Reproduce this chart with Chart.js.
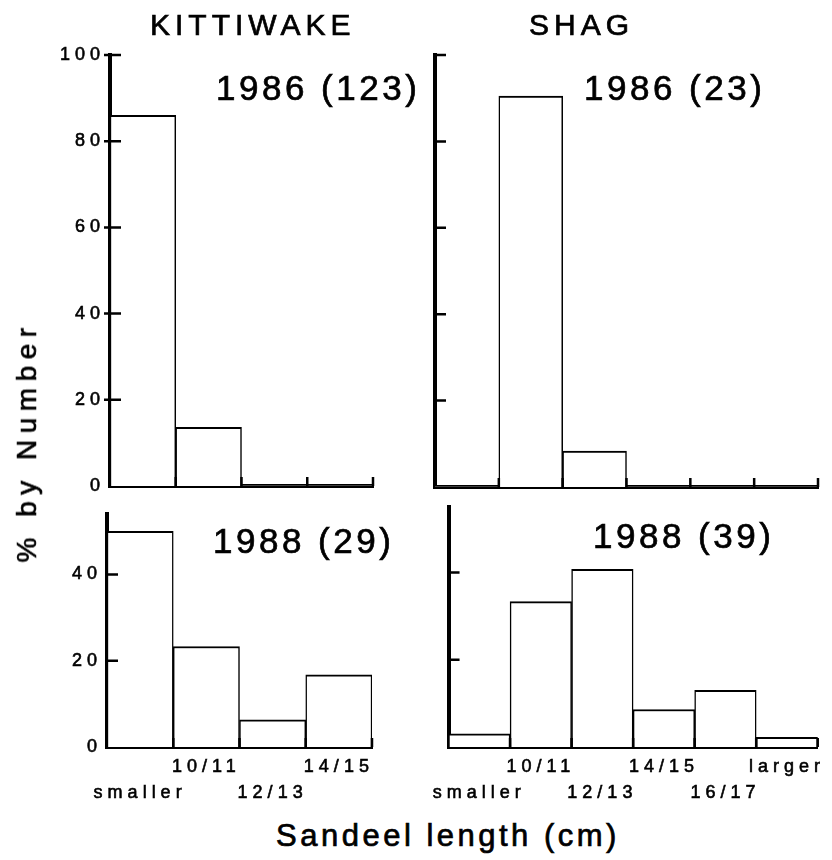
<!DOCTYPE html>
<html>
<head>
<meta charset="utf-8">
<script src="https://cdn.jsdelivr.net/npm/chart.js@4"></script>
<style>
    body { margin: 0; background: #fff; }
    #wrap { position: relative; width: 832px; height: 860px; overflow: hidden;
            font-family: "Liberation Sans", Arial, sans-serif; color: #000; }
    canvas { position: absolute; }
    .txt { position: absolute; white-space: nowrap; -webkit-text-stroke: 0.7px #000; }
    .bird { font-size: 30px; line-height: 30px; letter-spacing: 5px; top: 10px; }
    .year { font-size: 35px; line-height: 35px; letter-spacing: 3.5px; }
</style>
</head>
<body>
<div id="wrap">
    <canvas id="chart-tl" width="425" height="460" style="left:0;top:40px"></canvas>
    <canvas id="chart-tr" width="407" height="460" style="left:425px;top:40px"></canvas>
    <canvas id="chart-bl" width="425" height="310" style="left:0;top:500px"></canvas>
    <canvas id="chart-br" width="407" height="310" style="left:425px;top:500px"></canvas>

    <div class="txt bird" style="left:150px">KITTIWAKE</div>
    <div class="txt bird" style="left:529px">SHAG</div>
    <div class="txt year" style="left:216px;top:70px">1986 (123)</div>
    <div class="txt year" style="left:584px;top:70px">1986 (23)</div>
    <div class="txt year" style="left:213px;top:523px">1988 (29)</div>
    <div class="txt year" style="left:593px;top:518px">1988 (39)</div>
    <div class="txt" style="left:27px;top:442px;font-size:28px;letter-spacing:6.5px;transform:translate(-50%,-50%) rotate(-90deg)">% by Number</div>
    <div class="txt" style="left:276px;top:820px;font-size:31px;line-height:31px;letter-spacing:3.5px">Sandeel length (cm)</div>
</div>

<script>
(function () {
    "use strict";

    // size classes (cm)
    const kittiwakeClasses = ["smaller", "10/11", "12/13", "14/15"];
    const shagClasses = ["smaller", "10/11", "12/13", "14/15", "16/17", "larger"];

    // % by number
    const kittiwake1986 = [86, 13.6, 0, 0];
    const shag1986 = [0, 90.5, 8.3, 0, 0, 0];
    const kittiwake1988 = [50, 23.3, 6.3, 16.7];
    const shag1988 = [3, 33.3, 40.7, 8.6, 13, 2.2];

    // y tick values
    const yTicks1986 = [0, 20, 40, 60, 80, 100];
    const yTicks1988 = [0, 20, 40];

    const family = "'Liberation Sans', Arial, sans-serif";
    const xTickFont = { family: family, size: 18, lineHeight: "26px" };
    const yTickFont = { family: family, size: 18, lineHeight: 1 };

    // wide-spaced lettering like the original typesetting
    const spacingPlugin = {
        id: "spacing",
        beforeUpdate(chart) { chart.ctx.letterSpacing = "5px"; },
        beforeDraw(chart) { chart.ctx.letterSpacing = "5px"; }
    };

    // inward tick marks on y, upward marks at class boundaries on x
    const tickMarks = {
        id: "tickMarks",
        afterDraw(chart, args, opts) {
            const ctx = chart.ctx;
            const area = chart.chartArea;
            const xs = chart.scales.x;
            const ys = chart.scales.y;
            ctx.save();
            ctx.strokeStyle = "#000";
            ctx.lineWidth = 2.5;
            ctx.beginPath();
            ys.ticks.forEach(t => {
                if (t.value === 0) return;
                const py = ys.getPixelForValue(t.value);
                ctx.moveTo(area.left - (opts.outside || 0), py);
                ctx.lineTo(area.left + 11, py);
            });
            for (let i = 1; i <= xs.ticks.length; i++) {
                const px = xs.getPixelForValue(i - 0.5);
                ctx.moveTo(px, area.bottom);
                ctx.lineTo(px, area.bottom - 9);
            }
            ctx.stroke();
            ctx.restore();
        }
    };

    // alternate labels between two rows: even ones low, odd ones high
    function stagger(labels) {
        return labels.map((l, i) => (i % 2 ? [l, ""] : ["", l]));
    }

    function makePanel(canvasId, classes, values, cfg) {
        return new Chart(id(canvasId), {
            type: "bar",
            data: {
                labels: stagger(classes),
                datasets: [{
                    data: values,
                    backgroundColor: "#ffffff",
                    // empty classes get no outline at all
                    borderColor: c => (c.raw ? "#000000" : "rgba(0,0,0,0)"),
                    borderWidth: c => (c.raw ? { top: 2, left: 1.5, right: 1.5, bottom: 0 } : 0),
                    barPercentage: 1,
                    categoryPercentage: 1
                }]
            },
            options: {
                responsive: false,
                animation: false,
                layout: { padding: cfg.padding },
                plugins: {
                    legend: { display: false },
                    tooltip: { enabled: false },
                    tickMarks: { outside: cfg.outside }
                },
                scales: {
                    x: {
                        z: 1,   // axis line on top of the bars
                        grid: { display: false, drawTicks: false },
                        border: { display: true, width: 4, color: "#000" },
                        ticks: {
                            display: cfg.showX,
                            autoSkip: false,
                            maxRotation: 0,
                            padding: 7,
                            color: "#000",
                            textStrokeColor: "#000",
                            textStrokeWidth: 0.6,
                            font: xTickFont
                        },
                        afterFit: s => { s.height = cfg.xHeight; }
                    },
                    y: {
                        z: 1,
                        min: 0,
                        max: cfg.yMax,
                        grid: { display: false, drawTicks: false },
                        border: { display: true, width: 4, color: "#000" },
                        ticks: {
                            display: cfg.showY,
                            padding: 5,
                            color: "#000",
                            textStrokeColor: "#000",
                            textStrokeWidth: 0.6,
                            font: yTickFont
                        },
                        afterBuildTicks: s => { s.ticks = cfg.yTicks.map(v => ({ value: v })); },
                        afterFit: s => { s.width = cfg.yWidth; }
                    }
                }
            },
            plugins: [spacingPlugin, tickMarks]
        });
    }

    makePanel("chart-tl", kittiwakeClasses, kittiwake1986, {
        padding: { left: 0, right: 52, top: 15, bottom: 0 },
        yMax: 100, yTicks: yTicks1986, yWidth: 110, xHeight: 13,
        showX: false, showY: true, outside: 6
    });
    makePanel("chart-tr", shagClasses, shag1986, {
        padding: { left: 0, right: 14, top: 15, bottom: 0 },
        yMax: 100, yTicks: yTicks1986, yWidth: 10, xHeight: 13,
        showX: false, showY: false, outside: 0
    });
    makePanel("chart-bl", kittiwakeClasses, kittiwake1988, {
        padding: { left: 0, right: 53, top: 10, bottom: 0 },
        yMax: 54, yTicks: yTicks1988, yWidth: 107, xHeight: 63,
        showX: true, showY: true, outside: 0
    });
    makePanel("chart-br", shagClasses, shag1988, {
        padding: { left: 0, right: 14, top: 7, bottom: 0 },
        yMax: 55, yTicks: yTicks1988, yWidth: 10, xHeight: 63,
        showX: true, showY: false, outside: 0
    });

    /**
     * Alias for document.getElementById()
     */
    function id(idstr) {
        return document.getElementById(idstr);
    }
})();
</script>
</body>
</html>
